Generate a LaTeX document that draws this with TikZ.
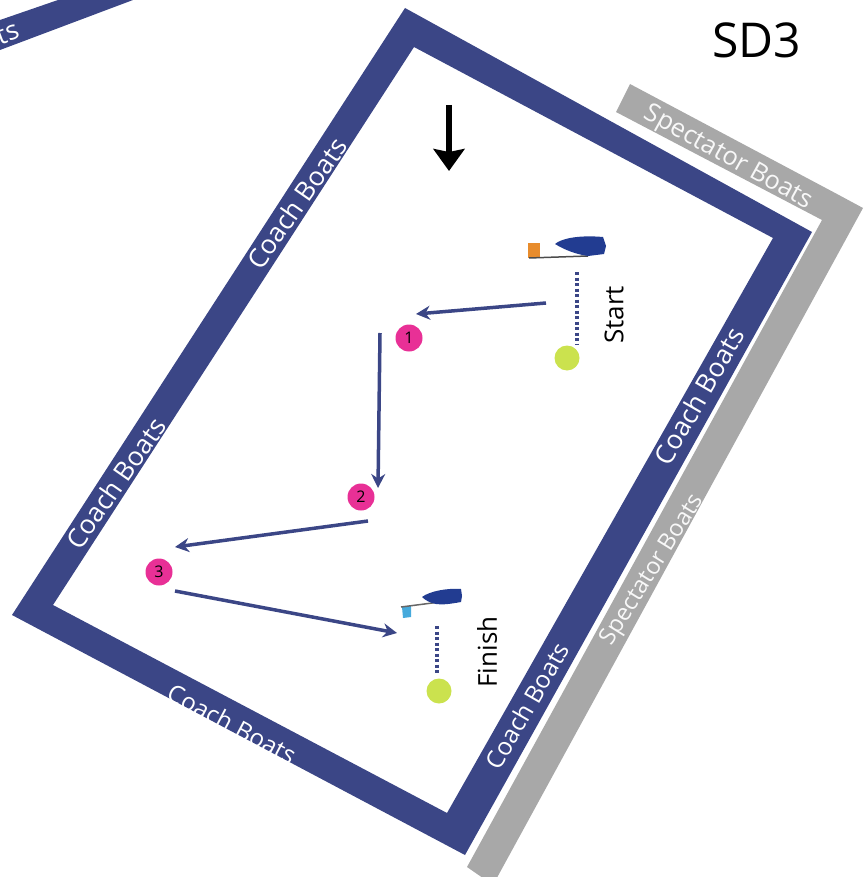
\documentclass[tikz,border=0pt]{standalone}
\usepackage{fontspec}
\setmainfont{Open Sans}
\definecolor{framenavy}{RGB}{59,70,134}
\definecolor{boatblue}{RGB}{34,60,145}
\definecolor{specgrey}{RGB}{168,168,168}
\definecolor{markpink}{RGB}{232,48,150}
\definecolor{pinlime}{RGB}{203,226,78}
\definecolor{rudderorange}{RGB}{232,140,44}
\definecolor{rudderblue}{RGB}{70,170,220}
\usetikzlibrary{arrows.meta}
\tikzset{
  barlabel/.style={text=white, font=\fontsize{26.5}{26.5}\selectfont, inner sep=0pt},
  smallbarlabel/.style={text=white, font=\fontsize{24.5}{24.5}\selectfont, inner sep=0pt},
  speclabel/.style={text=white!92!specgrey, font=\fontsize{25.5}{25.5}\selectfont, inner sep=0pt},
  sidespeclabel/.style={text=white!92!specgrey, font=\fontsize{23.5}{23.5}\selectfont, inner sep=0pt},
  sidelabel/.style={text=black, font=\fontsize{26}{26}\selectfont, inner sep=0pt},
  roundmark/.style={circle, fill=markpink, minimum size=27pt, inner sep=0pt, font=\fontsize{16}{16}\selectfont},
  pinmark/.style={circle, fill=pinlime, minimum size=25pt, inner sep=0pt},
  course/.style={draw=framenavy, line width=3.5pt, -{Stealth[length=14pt,width=14pt]}},
  pinline/.style={draw=framenavy, line width=3.5pt, dash pattern=on 3pt off 2.5pt}
}

\begin{document}
\begin{tikzpicture}[x=1pt,y=-1pt]
    \useasboundingbox (0,0) rectangle (864,877);
    \begin{scope}
      \clip (0,0) rectangle (864,877);
      % spectator strip
      \fill[specgrey] (630,84) -- (837,194) -- (863,208) -- (493,885) -- (467,867) -- (822,220) -- (616,112) -- cycle;
      % coach boats frame
      \fill[framenavy, even odd rule] (405,8) -- (812,232) -- (465,855) -- (12,615) -- cycle
        (414,47) -- (773,238) -- (447,813) -- (53,605) -- cycle;
      % bar cut by the edge
      \fill[framenavy] (0,20) -- (58,0) -- (133,0) -- (0,50) -- cycle;
      \node[barlabel, rotate=21] (offcut) at (-15,41) {Boats};
    \end{scope}

    \node[barlabel, rotate=55] (coachUpper) at (297,203) {Coach Boats};
    \node[barlabel, rotate=55] (coachLower) at (116,483) {Coach Boats};
    \node[smallbarlabel, rotate=-28] (coachBottom) at (232,724) {Coach Boats};
    \node[barlabel, rotate=60] (coachRightUpper) at (699,396) {Coach Boats};
    \node[smallbarlabel, rotate=60] (coachRightLower) at (527,706) {Coach Boats};
    \node[speclabel, rotate=-29] (specTop) at (728,158) {Spectator Boats};
    \node[sidespeclabel, rotate=58] (specSide) at (653,570) {Spectator Boats};

    \node[font=\fontsize{48}{48}\selectfont, inner sep=0pt] (title) at (757,40) {SD3};
    \node[sidelabel, rotate=90] (startText) at (614,315) {Start};
    \node[sidelabel, rotate=90] (finishText) at (487,652) {Finish};

    % wind
    \coordinate (windTop) at (449,105);
    \coordinate (windTip) at (449,171);
    \draw[line width=6pt, -{Stealth[length=22pt,width=31pt,inset=3pt]}] (windTop) -- (windTip);

    % start boat
    \fill[rudderorange] (528,243) rectangle (540,258);
    \draw[black!70, line width=1.5pt] (529,258) -- (588,256);
    \fill[boatblue] (555,244) .. controls (562,238) and (580,235) .. (603,237) -- (606,246) -- (604,254) -- (588,256) .. controls (575,254) and (565,250) .. cycle;

    % finish boat
    \fill[rudderblue] (402,607) -- (411,606) -- (411,617) -- (403,618) -- cycle;
    \draw[black!60, line width=1.5pt] (401,607) -- (440,602);
    \fill[boatblue] (422,597) .. controls (430,591) and (447,588) .. (461,589) -- (462,596) -- (461,602) .. controls (450,604) and (442,605) .. (436,604) .. controls (430,603) and (425,600) .. cycle;

    % marks
    \node[roundmark] (markOne) at (409,338) {1};
    \node[roundmark] (markTwo) at (361,497) {2};
    \node[roundmark] (markThree) at (159,572) {3};
    \node[pinmark] (startPin) at (567,358) {};
    \node[pinmark] (finishPin) at (439,691) {};

    % course legs
    \coordinate (legA) at (546,303);
    \coordinate (legAend) at (416,314);
    \coordinate (legB) at (380,333);
    \coordinate (legBend) at (378,488);
    \coordinate (legC) at (368,521);
    \coordinate (legCend) at (175,547);
    \coordinate (legD) at (175,591);
    \coordinate (legDend) at (397,633);
    \draw[course] (legA) -- (legAend);
    \draw[course] (legB) -- (legBend);
    \draw[course] (legC) -- (legCend);
    \draw[course] (legD) -- (legDend);

    % start and finish lines
    \coordinate (startLine) at (577,272);
    \coordinate (startLineEnd) at (577,345);
    \coordinate (finishLine) at (437,626);
    \coordinate (finishLineEnd) at (437,674);
    \draw[pinline] (startLine) -- (startLineEnd);
    \draw[pinline] (finishLine) -- (finishLineEnd);
\end{tikzpicture}
\end{document}
